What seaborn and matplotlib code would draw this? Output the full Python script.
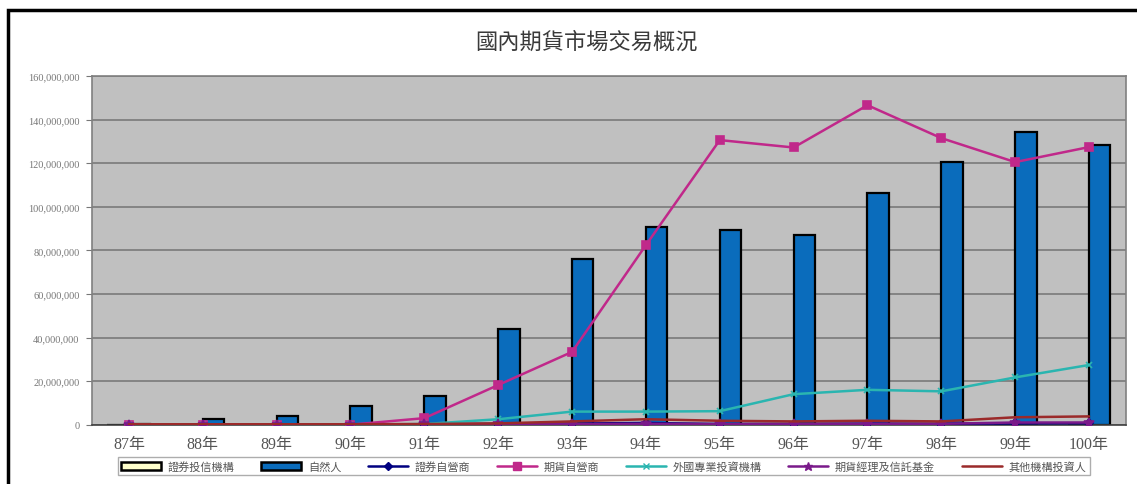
import numpy as np
import pandas as pd
import matplotlib
matplotlib.use("Agg")
import matplotlib.pyplot as plt
from matplotlib.patches import Rectangle, Patch
from matplotlib.lines import Line2D
from matplotlib.ticker import FuncFormatter, MultipleLocator
import seaborn as sns

# Trading volume by investor type, ROC years 87-100
years = ["87年", "88年", "89年", "90年", "91年", "92年", "93年",
         "94年", "95年", "96年", "97年", "98年", "99年", "100年"]

securities_trust = [0, 0, 0, 0, 0, 0, 0, 0, 0, 0, 0, 0, 0, 0]
individuals = [500000, 2800000, 4000000, 8600000, 13200000, 43900000, 76000000,
               90800000, 89400000, 86900000, 106400000, 120500000, 134300000, 128300000]
securities_dealers = [0, 0, 0, 0, 200000, 400000, 500000,
                      800000, 300000, 400000, 500000, 400000, 600000, 700000]
futures_dealers = [0, 0, 0, 0, 3000000, 18200000, 33400000,
                   82400000, 130600000, 127200000, 146600000, 131500000, 120500000, 127400000]
foreign_inst = [0, 0, 0, 0, 300000, 2500000, 6000000,
                6000000, 6200000, 14000000, 16000000, 15300000, 21700000, 27400000]
futures_mgmt = [0, 0, 0, 0, 100000, 200000, 300000,
                400000, 300000, 300000, 400000, 400000, 1000000, 1000000]
other_inst = [200000, 200000, 200000, 200000, 300000, 600000, 1500000,
              2500000, 1800000, 1500000, 1800000, 1500000, 3400000, 3800000]

series_names = ["證券投信機構", "自然人", "證券自營商", "期貨自營商",
                "外國專業投資機構", "期貨經理及信託基金", "其他機構投資人"]

sns.set_theme(style="white")
plt.rcParams["font.family"] = ["Liberation Serif", "Noto Sans CJK TC", "DejaVu Sans"]

fig = plt.figure(figsize=(11.37, 4.85), dpi=100)
fig.patch.set_facecolor("white")
ax = fig.add_axes([0.0809, 0.1223, 0.9094, 0.7189])
ax.set_facecolor("#c0c0c0")

# clustered bars: trust (zero) and individuals
bars = pd.DataFrame({
    "year": years * 2,
    "value": securities_trust + individuals,
    "series": [series_names[0]] * len(years) + [series_names[1]] * len(years),
})
bar_colors = {series_names[0]: "#ffffcc", series_names[1]: "#0a6cbc"}
sns.barplot(data=bars, x="year", y="value", hue="series", palette=bar_colors,
            width=0.58, dodge=True, edgecolor="black", linewidth=1.6,
            saturation=1, legend=False, ax=ax, zorder=2)

idx = np.arange(len(years))
line_specs = [
    (securities_dealers, "#000080", "D", 4, series_names[2]),
    (futures_dealers, "#c0288a", "s", 6, series_names[3]),
    (foreign_inst, "#2ab5b0", "x", 5, series_names[4]),
    (futures_mgmt, "#7a1a8a", "*", 7, series_names[5]),
    (other_inst, "#9b2a2a", None, 0, series_names[6]),
]
for vals, col, mk, ms, name in line_specs:
    sns.lineplot(x=idx, y=vals, color=col, marker=mk, markersize=ms,
                 markeredgecolor=col, markeredgewidth=1.2, linewidth=1.8,
                 ax=ax, zorder=3, legend=False)

ax.set_xlim(-0.5, len(years) - 0.5)
ax.set_ylim(0, 160000000)
ax.yaxis.set_major_locator(MultipleLocator(20000000))
ax.yaxis.set_major_formatter(FuncFormatter(lambda v, p: f"{int(v):,}"))
ax.grid(axis="y", color="#7a7a7a", linewidth=1.2, zorder=0)
ax.set_axisbelow(True)
ax.set_xlabel("")
ax.set_ylabel("")
for s in ax.spines.values():
    s.set_color("#808080")
    s.set_linewidth(1.2)
ax.spines["bottom"].set_color("#404040")
ax.tick_params(axis="y", labelsize=7.5, colors="#777777", length=4, width=0.8,
               left=True, pad=5)
ax.tick_params(axis="x", labelsize=11.5, colors="#555555", length=0, pad=8)

fig.text(0.516, 0.913, "國內期貨市場交易概況", ha="center", va="center",
         fontsize=16, color="#3a3a3a", family=["Noto Sans CJK TC", "DejaVu Sans"])

handles = [
    Patch(facecolor="#ffffcc", edgecolor="black", linewidth=1.8),
    Patch(facecolor="#0a6cbc", edgecolor="black", linewidth=1.8),
]
for vals, col, mk, ms, name in line_specs:
    handles.append(Line2D([], [], color=col, marker=mk, markersize=ms * 0.9,
                          markeredgecolor=col, linewidth=1.8))
leg = fig.legend(handles, series_names, loc="center", bbox_to_anchor=(0.531, 0.037),
                 ncol=7, fontsize=8, frameon=True, fancybox=False,
                 handlelength=3.6, columnspacing=2.4, handletextpad=0.6,
                 borderpad=0.3, prop={"family": ["Noto Sans CJK TC", "DejaVu Sans"], "size": 8})
leg.get_frame().set_edgecolor("#999999")
leg.get_frame().set_linewidth(1.0)
for t in leg.get_texts():
    t.set_color("#555555")

# outer chart frame
fig.add_artist(Rectangle((8 / 1137, -0.2), 1.2, 1.2 - 11 / 485, transform=fig.transFigure,
                         fill=False, edgecolor="black", linewidth=2.5))

fig.savefig("out.png", dpi=100, facecolor="white")
